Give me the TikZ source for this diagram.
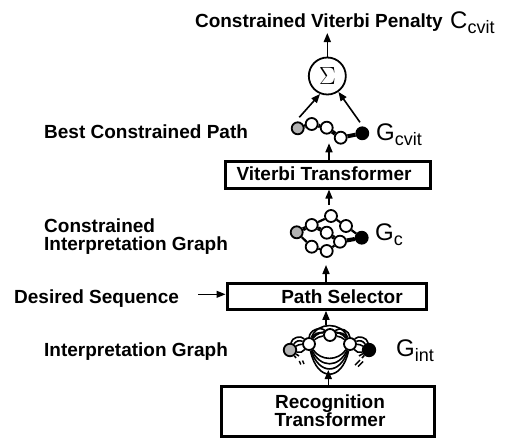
\documentclass[tikz,border=0pt]{standalone}
\usepackage{fontspec}
\setmainfont{Liberation Sans}
\usetikzlibrary{arrows.meta,backgrounds}

\newcommand\symsub[2]{#1\raisebox{-5pt}{\fontsize{18}{18}\selectfont #2}}

\begin{document}
\begin{tikzpicture}[x=1pt,y=-1pt,
  lbl/.style={font=\fontsize{19}{19}\selectfont\bfseries, inner sep=0pt},
  sym/.style={font=\fontsize{24}{24}\selectfont, inner sep=0pt},
  box/.style={draw, line width=3pt, inner sep=0pt},
  arr/.style={line width=1.6pt, -{Triangle[length=9pt,width=7pt]}},
  gnode/.style={circle, draw, line width=1.8pt, minimum size=12pt, inner sep=0pt, fill=white},
  startnode/.style={gnode, fill=black!30},
  endnode/.style={gnode, fill=black},
  heavyedge/.style={line width=4pt},
  lightedge/.style={line width=2.2pt},
  arcedge/.style={line width=1.6pt},
]
\useasboundingbox (0,0) rectangle (513,439);

% ---------- processing blocks ----------
\node[box, minimum width=205pt, minimum height=26.3pt] (vit) at (327.5,174.9) {};
\node[lbl, anchor=base] (vittext) at (324,180) {Viterbi Transformer};

\node[box, minimum width=199pt, minimum height=26pt] (psel) at (326.5,296.3) {};
\node[lbl, anchor=base] (pseltext) at (342,303.3) {Path Selector};

\node[box, minimum width=213pt, minimum height=50pt] (rec) at (327.5,411.7) {};
\node[lbl, anchor=base] (rectext1) at (330,408) {Recognition};
\node[lbl, anchor=base] (rectext2) at (330,426.7) {Transformer};

% ---------- summation ----------
\node[circle, draw, line width=1.8pt, minimum size=37pt, inner sep=0pt] (sum) at (327.3,76)
  {\fontsize{27}{27}\selectfont$\Sigma$};

% ---------- left-hand captions ----------
\node[lbl, anchor=base east] (pen) at (443,27) {Constrained Viterbi Penalty};
\node[lbl, anchor=base west] (bcp) at (44,138) {Best Constrained Path};
\node[lbl, anchor=base west] (cig1) at (44,232) {Constrained};
\node[lbl, anchor=base west] (cig2) at (44,250) {Interpretation Graph};
\node[lbl, anchor=base west] (des) at (14,303) {Desired Sequence};
\node[lbl, anchor=base west] (ig) at (44,356) {Interpretation Graph};

% ---------- symbols ----------
\node[sym, anchor=base west] (ccvit) at (450,28) {\symsub{C}{cvit}};
\node[sym, anchor=base west] (gcvit) at (376,140) {\symsub{G}{cvit}};
\node[sym, anchor=base west] (gc) at (375,240) {\symsub{G}{c}};
\node[sym, anchor=base west] (gint) at (396,356.7) {\symsub{G}{int}};

% ---------- best constrained path ----------
\node[startnode] (p0) at (297.7,128.3) {};
\node[gnode] (p1) at (311.7,124) {};
\node[gnode] (p2) at (326.7,127.7) {};
\node[gnode] (p3) at (340.7,137.7) {};
\node[endnode] (p4) at (362.3,133.3) {};

% ---------- constrained interpretation graph ----------
\node[startnode] (c0) at (296.7,232.3) {};
\node[gnode] (c1) at (311.7,225) {};
\node[gnode] (c2) at (331,216) {};
\node[gnode] (c3) at (326.7,232.7) {};
\node[gnode] (c4) at (346,226) {};
\node[gnode] (c5) at (340,241.7) {};
\node[gnode] (c6) at (311.7,246.7) {};
\node[gnode] (c7) at (326.7,251) {};
\node[endnode] (c8) at (361.7,237.7) {};

% ---------- interpretation graph ----------
\node[startnode, minimum size=12.5pt] (i0) at (290,350) {};
\node[gnode] (i1) at (309,344) {};
\node[gnode] (i2) at (330,335) {};
\node[gnode] (i3) at (350,344) {};
\node[endnode, minimum size=12.5pt] (i4) at (369,350) {};
\coordinate (i0a) at (296,358);
\coordinate (i0b) at (299,356);
\coordinate (i4a) at (362,358);
\coordinate (i4b) at (359,356);

% ---------- arrow end points ----------
\coordinate (sl) at (299.3,117.3);
\coordinate (sr) at (360,122.3);
\coordinate (pentip) at (327.3,33);
\coordinate (cvtip) at (329,143.3);
\coordinate (cgtop) at (329,205);
\coordinate (cgtip) at (326,265);
\coordinate (igtop) at (326,325);
\coordinate (igtip) at (328.3,370);
\coordinate (desstart) at (198,294.3);

\begin{scope}[on background layer]
  \fill[white] (0,0) rectangle (513,439);
  % best path
  \draw[heavyedge] (p0) -- (p1) -- (p2) -- (p3) -- (p4);
  % constrained graph
  \draw[heavyedge] (c0) -- (c1) -- (c3) -- (c5) -- (c8);
  \draw[lightedge] (c1) -- (c2) -- (c4) -- (c8);
  \draw[lightedge] (c0) -- (c6) -- (c7) -- (c5);
  % interpretation graph: arcs between neighbouring nodes
  \foreach \a/\b in {i0/i1,i1/i2,i2/i3,i3/i4}{
    \foreach \bb in {15,40,65}
      \draw[arcedge] (\a) to[bend left=\bb] (\b);
  }
  \draw[arcedge] (i0) to[bend right=35] (i1);
  \draw[arcedge] (i3) to[bend right=35] (i4);
  % long arcs skipping the middle node
  \draw[arcedge] (i1) to[out=-55,in=-125,looseness=1.1] (i3);
  \draw[arcedge] (i1) to[out=-65,in=-115,looseness=1.45] (i3);
  \draw[arcedge] (i1) to[out=-72,in=-108,looseness=1.8] (i3);
  \draw[arcedge] (i1) to[out=-78,in=-102,looseness=2.15] (i3);
  \draw[arcedge] (i1) to[out=70,in=110,looseness=1.2] (i3);
  \draw[arcedge] (i1) to[out=55,in=125,looseness=0.9] (i3);
  % edges leaving the graph, shown broken off
  \draw[arcedge] (i0) -- (i0a);
  \draw[arcedge] (i0) -- (i0b);
  \draw[arcedge] (i4) -- (i4a);
  \draw[arcedge] (i4) -- (i4b);
\end{scope}

% break marks
\draw[line width=1.4pt] (299.3,361) -- (300.8,364.5);
\draw[line width=1.4pt] (302.5,360.5) -- (304,364);
\draw[line width=1.4pt] (355,365) -- (360,360);
\draw[line width=1.4pt] (358,366.5) -- (363,361.5);

% ---------- flow arrows ----------
\draw[arr] (sum) -- (pentip);
\draw[arr] (sl) -- (sum.248);
\draw[arr] (sr) -- (sum.305);
\draw[arr] (vit.north -| cvtip) -- (cvtip);
\draw[arr] (cgtop) -- (vit.south -| cgtop);
\draw[arr] (psel.north -| cgtip) -- (cgtip);
\draw[arr] (igtop) -- (psel.south -| igtop);
\draw[arr] (rec.north -| igtip) -- (igtip);
\draw[arr, line width=1.1pt] (desstart) -- (psel.west |- desstart);
\end{tikzpicture}
\end{document}
